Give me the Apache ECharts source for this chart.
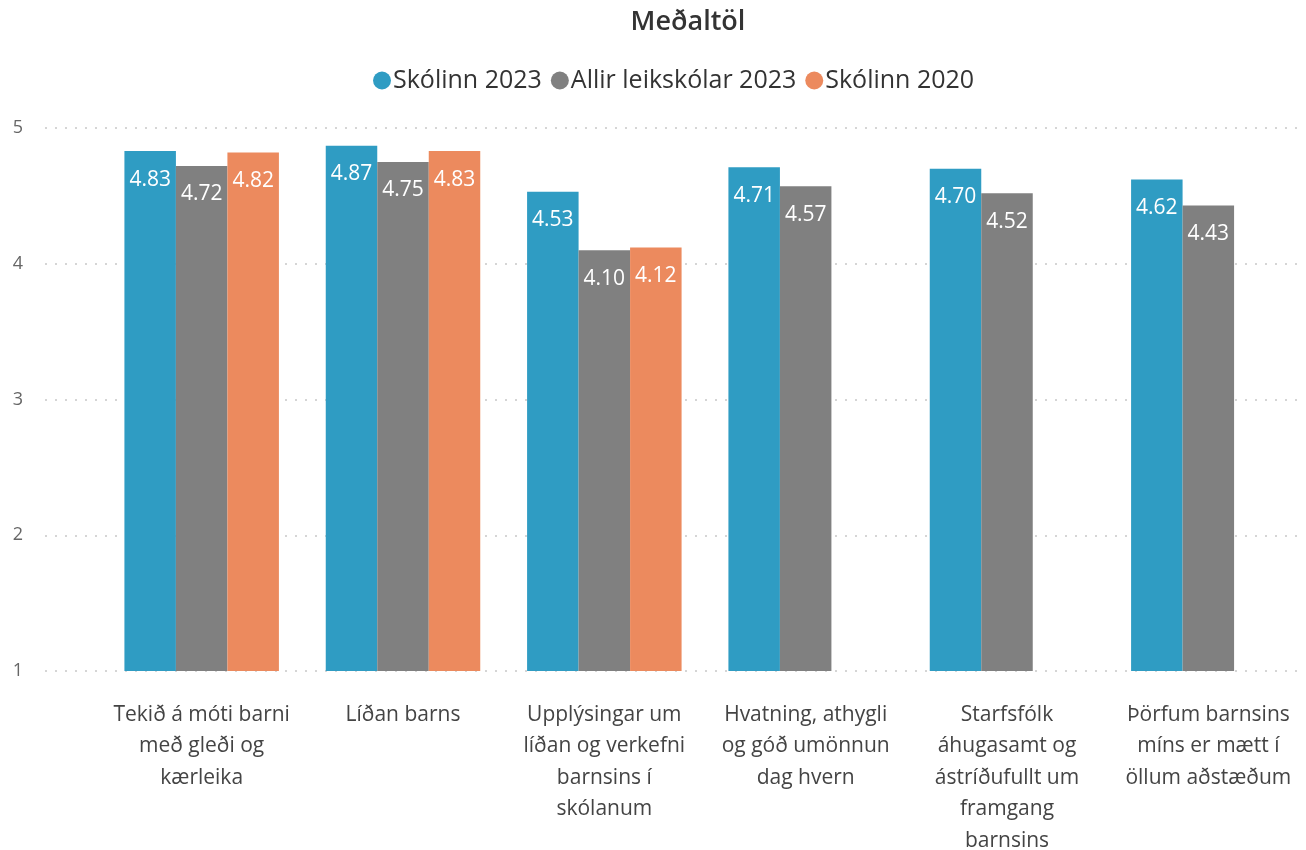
<!DOCTYPE html>
<html>
<head>
<meta charset="utf-8">
<script src="https://cdn.jsdelivr.net/npm/echarts@6/dist/echarts.min.js"></script>
<style>
  html, body { margin: 0; padding: 0; background: #fff; }
  #chart { width: 1306px; height: 850px; }
</style>
</head>
<body>
<div id="chart"></div>
<script>
// Meðaltöl - averages per question
const categories = [
  'Tekið á móti barni\nmeð gleði og\nkærleika',
  'Líðan barns',
  'Upplýsingar um\nlíðan og verkefni\nbarnsins í\nskólanum',
  'Hvatning, athygli\nog góð umönnun\ndag hvern',
  'Starfsfólk\náhugasamt og\nástríðufullt um\nframgang\nbarnsins',
  'Þörfum barnsins\nmíns er mætt í\nöllum aðstæðum',
];
const skolinn2023 = [4.83, 4.87, 4.53, 4.71, 4.70, 4.62];
const allir2023 = [4.72, 4.75, 4.10, 4.57, 4.52, 4.43];
const skolinn2020 = [4.82, 4.83, 4.12, null, null, null];
const yTicks = [1, 2, 3, 4, 5];

const seriesNames = ['Skólinn 2023', 'Allir leikskólar 2023', 'Skólinn 2020'];
const colors = ['#2f9cc3', '#808080', '#ec8a5e'];
const font = '"Open Sans", "Noto Sans", sans-serif';

const chart = echarts.init(document.getElementById('chart'));

function barSeries(i, data) {
  return {
    name: seriesNames[i],
    type: 'bar',
    xAxisIndex: 0,
    yAxisIndex: 0,
    barWidth: 51.5,
    barGap: '0%',
    itemStyle: { color: colors[i] },
    label: {
      show: true,
      position: 'insideTop',
      distance: 18,
      color: '#fff',
      fontSize: 21,
      fontFamily: font,
      formatter: p => p.value.toFixed(2),
    },
    data: data,
  };
}

chart.setOption({
  animation: false,
  color: colors,
  title: {
    text: 'Meðaltöl',
    left: 683,
    textAlign: 'center',
    top: 4,
    textStyle: { fontSize: 27, fontWeight: 600, color: '#333', fontFamily: font },
  },
  legend: {
    top: 63,
    left: 368,
    icon: 'circle',
    itemWidth: 18,
    itemHeight: 18,
    itemGap: 9,
    data: seriesNames,
    textStyle: { fontSize: 25, color: '#333', fontFamily: font, padding: [0, 0, 0, -3] },
  },
  grid: [
    { left: 101, width: 1208, top: 128, height: 543, outerBoundsMode: 'none' },
    { left: 45, width: 1255, top: 128, height: 543, outerBoundsMode: 'none' },
  ],
  xAxis: [
    {
      type: 'category',
      gridIndex: 0,
      data: categories,
      axisLine: { show: false },
      axisTick: { show: false },
      axisLabel: {
        interval: 0,
        margin: 28,
        fontSize: 21,
        lineHeight: 31.5,
        color: '#444',
        fontFamily: font,
        align: 'center',
      },
    },
    {
      type: 'value',
      gridIndex: 1,
      show: false,
    },
  ],
  yAxis: [
    {
      type: 'value',
      gridIndex: 0,
      min: yTicks[0],
      max: yTicks[yTicks.length - 1],
      interval: 1,
      show: false,
    },
    {
      type: 'value',
      gridIndex: 1,
      min: yTicks[0],
      max: yTicks[yTicks.length - 1],
      interval: 1,
      axisLine: { show: false },
      axisTick: { show: false },
      axisLabel: { margin: 22, fontSize: 18, color: '#666', fontFamily: font },
      splitLine: { lineStyle: { type: [2, 8], color: '#c8c8c8', width: 1.5 } },
    },
  ],
  series: [
    barSeries(0, skolinn2023),
    barSeries(1, allir2023),
    barSeries(2, skolinn2020),
  ],
});
</script>
</body>
</html>
